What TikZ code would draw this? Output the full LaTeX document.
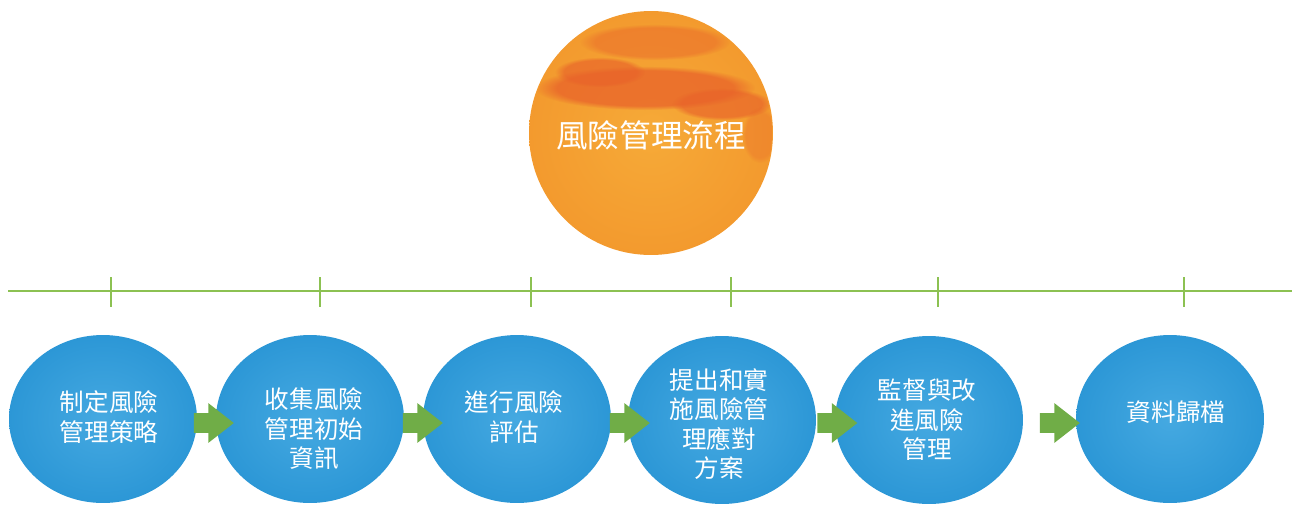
\documentclass[tikz,border=0pt]{standalone}
\usepackage{fontspec}
\newfontfamily\cjk{Noto Sans CJK TC}
\usetikzlibrary{shapes.geometric,shapes.arrows,fadings}
\definecolor{blueblob}{HTML}{2C97D6}
\definecolor{bluelight}{HTML}{45A9E1}
\definecolor{orangemain}{HTML}{F39A2E}
\definecolor{orangedark}{HTML}{E8622A}
\definecolor{orangelight}{HTML}{F6AA38}
\definecolor{linegreen}{HTML}{8CC152}
\definecolor{arrowgreen}{HTML}{70AD47}
\begin{document}
\begin{tikzpicture}[x=0.02cm,y=-0.02cm,
  blob/.style={ellipse, inner color=bluelight, outer color=blueblob, minimum width=3.76cm, minimum height=3.36cm, inner sep=0},
  blobtext/.style={text=white, font=\cjk\fontsize{14}{16.8}\selectfont, align=center, inner sep=0},
  steparrow/.style={single arrow, fill=arrowgreen, draw=none, inner xsep=0, inner ysep=0.19cm, minimum height=0.8cm, single arrow head extend=0.2cm, single arrow tip angle=76},
  tick/.style={draw=linegreen, line width=1.2pt},
  splash/.style={path fading=circle with fuzzy edge 20 percent}
]
\useasboundingbox (0,0) rectangle (1295,508);

% orange title circle
\node[circle, inner color=orangelight, outer color=orangemain, minimum size=4.88cm, inner sep=0] (top) at (651,133) {};
\begin{scope}
\clip (651,133) circle [radius=121];
\fill[orangedark, opacity=0.75, splash] (645,88) ellipse [x radius=110, y radius=22];
\fill[orangedark, opacity=0.65, splash] (600,72) ellipse [x radius=45, y radius=15];
\fill[orangedark, opacity=0.65, splash] (722,104) ellipse [x radius=50, y radius=16];
\fill[orangedark, opacity=0.45, splash] (655,42) ellipse [x radius=75, y radius=18];
\fill[orangedark, opacity=0.3, splash] (760,135) ellipse [x radius=18, y radius=28];
\end{scope}
\node[text=white, font=\cjk\fontsize{18}{20}\selectfont, inner sep=0] (title) at (651,135) {風險管理流程};

% timeline
\coordinate (L) at (8,291);
\coordinate (R) at (1292,291);
\draw[tick] (L) -- (R);
\foreach \x in {111,320,531,731,938,1184}{
  \draw[tick] (\x,277) -- (\x,307);
}

% blue blobs
\node[blob] (b1) at (103,419) {};
\node[blob] (b2) at (310,419) {};
\node[blob] (b3) at (517,419) {};
\node[blob] (b4) at (722,420) {};
\node[blob] (b5) at (929,420) {};
\node[blob] (b6) at (1170,419) {};

\node[blobtext] (t1) at (109,417) {制定風險\\管理策略};
\node[blobtext] (t2) at (314,429) {收集風險\\管理初始\\資訊};
\node[blobtext] (t3) at (514,417) {進行風險\\評估};
\node[blobtext] (t4) at (719,424) {提出和實\\施風險管\\理應對\\方案};
\node[blobtext] (t5) at (927,420) {監督與改\\進風險\\管理};
\node[blobtext] (t6) at (1176,412) {資料歸檔};

% arrows
\node[steparrow] (a1) at (207.5,423) {};
\node[steparrow] (a2) at (416.5,423) {};
\node[steparrow] (a3) at (623.5,423) {};
\node[steparrow] (a4) at (831,423) {};
\node[steparrow] (a5) at (1053.5,423) {};
\end{tikzpicture}
\end{document}
